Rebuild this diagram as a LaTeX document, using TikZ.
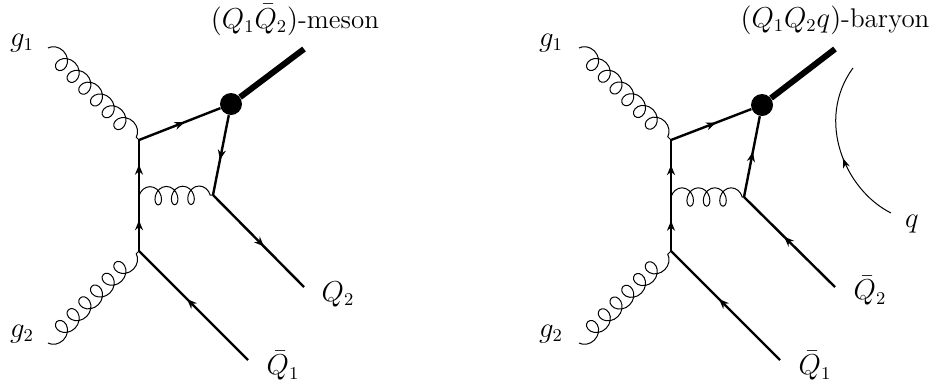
\documentclass[tikz,border=0pt]{standalone}
\usetikzlibrary{arrows.meta,decorations.pathmorphing,decorations.markings}
\begin{document}
\begin{tikzpicture}[
  x=0.5pt, y=-0.5pt,
  quark/.style={line width=1.2pt, postaction={decorate}, decoration={markings, mark=at position 0.56 with {\arrow{Stealth[length=5pt,width=4pt]}}}},
  hadron/.style={line width=3pt},
  gluon/.style={line width=0.5pt, decorate, decoration={coil, aspect=1, segment length=8.3pt, amplitude=4.4pt, pre length=0pt, post length=0pt}},
  gluonb/.style={gluon, decoration={mirror}},
  gluonh/.style={gluon, decoration={aspect=0.75, segment length=8.2pt, amplitude=4.6pt}},
  blob/.style={circle, fill=black, inner sep=0pt, minimum size=11pt},
  lab/.style={inner sep=0pt, font=\fontsize{13.5}{16}\selectfont},
  sea/.style={line width=0.5pt, postaction={decorate}, decoration={markings, mark=at position 0.44 with {\arrow{Stealth[length=5pt,width=3.5pt]}}}}
]
\useasboundingbox (0,0) rectangle (932,387);
% left diagram
\coordinate (atop) at (139,140);
\coordinate (amid) at (139,196);
\coordinate (abot) at (139,251);
\coordinate (aglu) at (213,195);
\coordinate (ag1) at (48,48);
\coordinate (ag2) at (48,343);
\coordinate (aend) at (304,49);
\coordinate (aQ2) at (304,287);
\coordinate (aQ1) at (248,360);
\node[blob] (ablob) at (231,104) {};
% right diagram
\coordinate (btop) at (671,140);
\coordinate (bmid) at (671,197);
\coordinate (bbot) at (671,251);
\coordinate (bglu) at (744,197);
\coordinate (bg1) at (579,48);
\coordinate (bg2) at (579,343);
\coordinate (bend) at (835,49);
\coordinate (bQ2) at (835,287);
\coordinate (bQ1) at (780,360);
\coordinate (qin) at (891,213);
\coordinate (qout) at (853,68);
\node[blob] (bblob) at (762,105) {};
% labels
\node[lab] (ag1lab) at (22,43) {$g_1$};
\node[lab] (ag2lab) at (22,334) {$g_2$};
\node[lab] (amesonlab) at (295,20) {$(Q_1\bar{Q}_2)$-meson};
\node[lab] (aQ2lab) at (338,294) {$Q_2$};
\node[lab] (aQ1lab) at (283,366) {$\bar{Q}_1$};
\node[lab] (bg1lab) at (551,43) {$g_1$};
\node[lab] (bg2lab) at (551,334) {$g_2$};
\node[lab] (bbaryonlab) at (835,20) {$(Q_1Q_2q)$-baryon};
\node[lab] (bQ2lab) at (870,291) {$\bar{Q}_2$};
\node[lab] (bQ1lab) at (815,366) {$\bar{Q}_1$};
\node[lab] (qlab) at (912,224) {$q$};
% left lines
\draw[quark] (abot) -- (amid);
\draw[quark] (amid) -- (atop);
\draw[quark] (atop) -- (ablob);
\draw[quark] (ablob) -- (aglu);
\draw[quark] (aglu) -- (aQ2);
\draw[quark] (aQ1) -- (abot);
\draw[hadron] (ablob) -- (aend);
\draw[gluon] (ag1) -- (atop);
\draw[gluonb] (ag2) -- (abot);
\draw[gluonh] (amid) -- (aglu);
% right lines
\draw[quark] (bbot) -- (bmid);
\draw[quark] (bmid) -- (btop);
\draw[quark] (btop) -- (bblob);
\draw[quark] (bglu) -- (bblob);
\draw[quark] (bQ2) -- (bglu);
\draw[quark] (bQ1) -- (bbot);
\draw[hadron] (bblob) -- (bend);
\draw[gluon] (bg1) -- (btop);
\draw[gluonb] (bg2) -- (bbot);
\draw[gluonh] (bmid) -- (bglu);
\draw[sea] (qin) .. controls (845,190) and (815,120) .. (qout);
\end{tikzpicture}
\end{document}
